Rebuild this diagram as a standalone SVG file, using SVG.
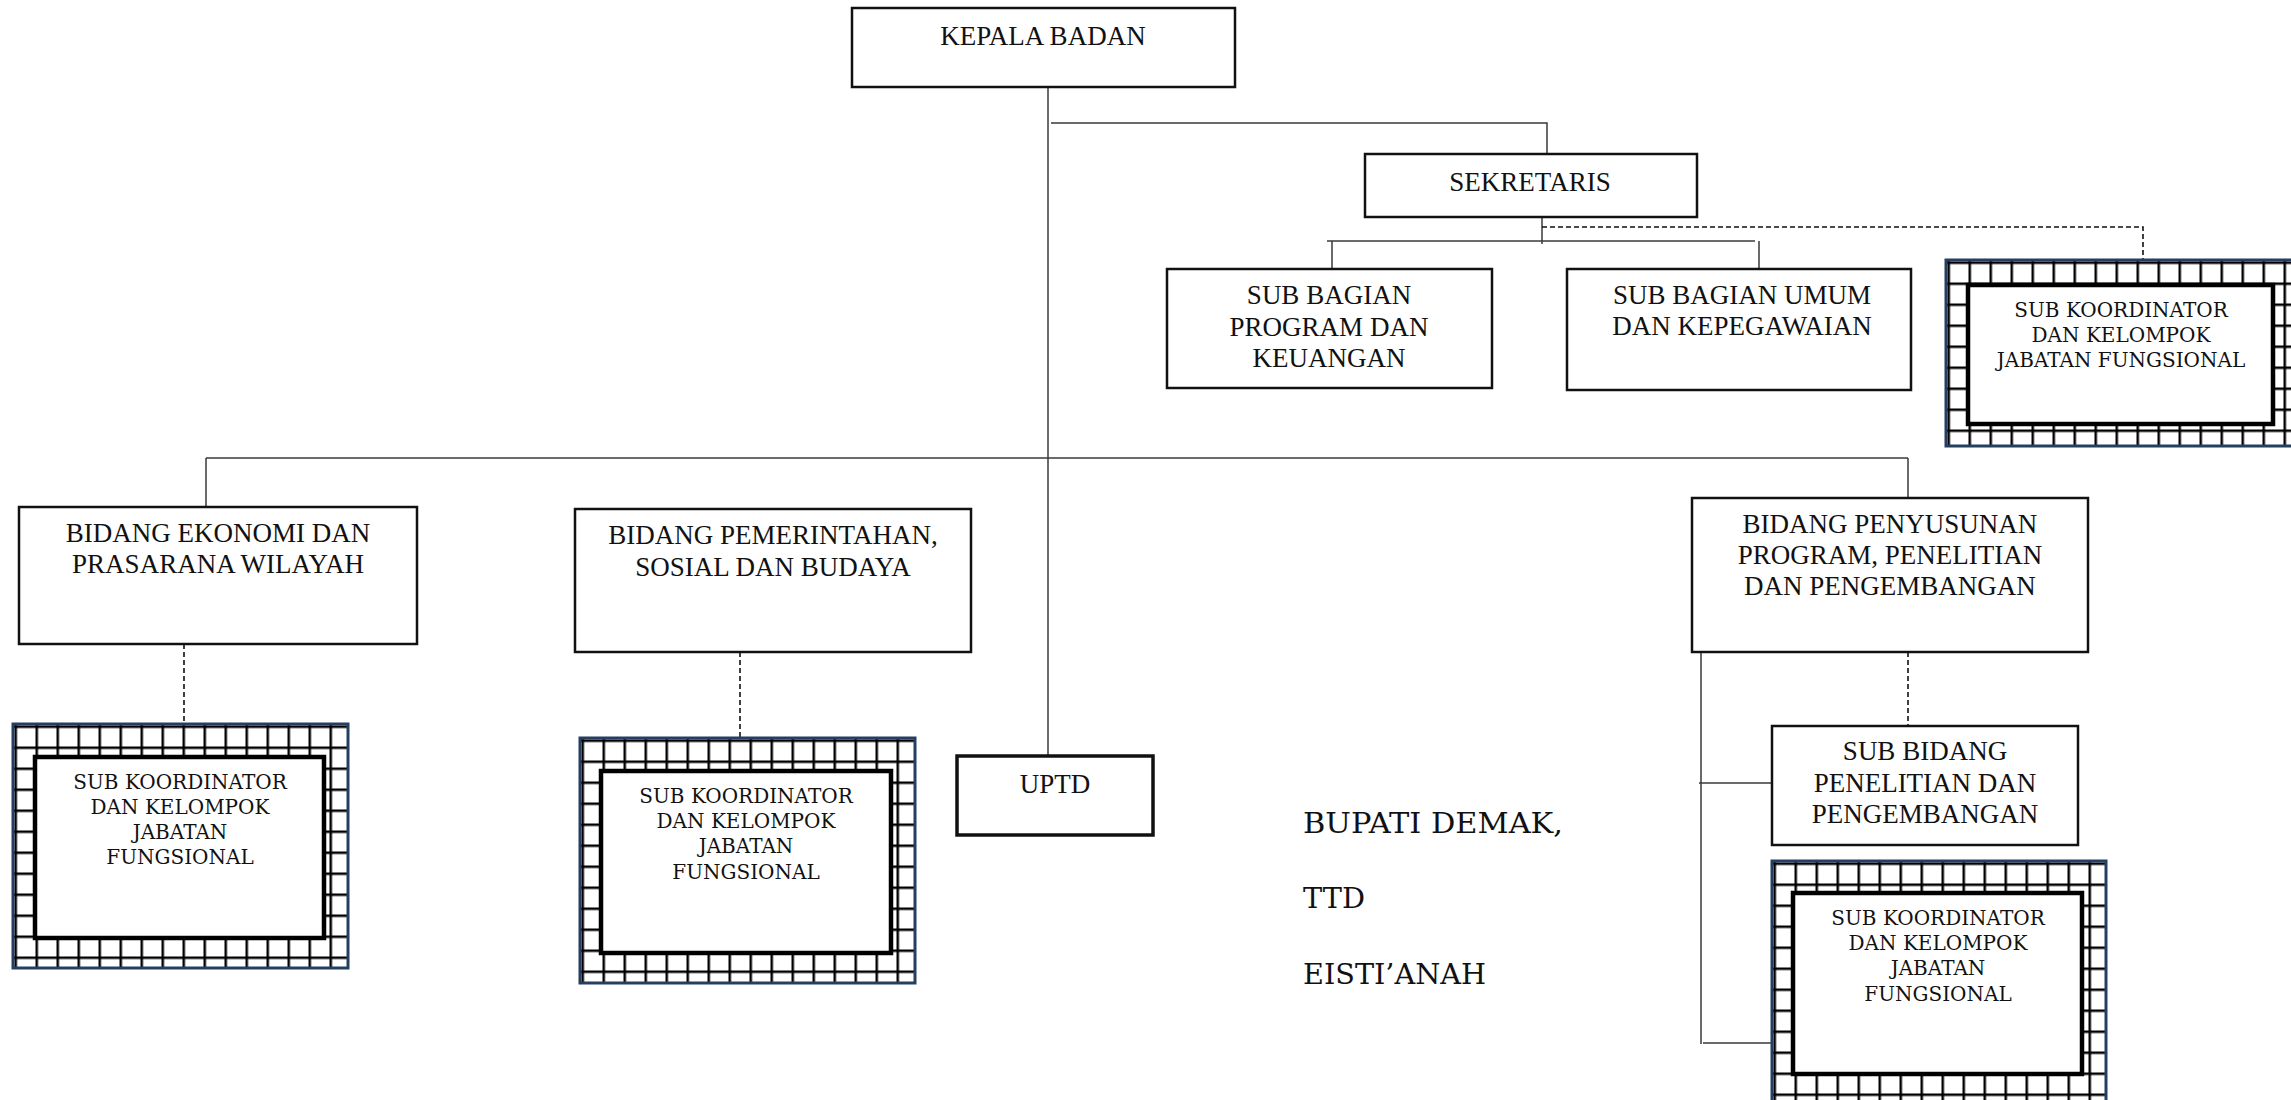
<svg xmlns="http://www.w3.org/2000/svg" width="2291" height="1100" viewBox="0 0 2291 1100">
<defs>
<pattern id="grid" patternUnits="userSpaceOnUse" x="1.5" y="1.5" width="21" height="21">
<rect width="21" height="21" fill="#fff"/>
<rect width="21" height="2.5" fill="#000"/>
<rect width="2.5" height="21" fill="#000"/>
</pattern>
<style>
.box{fill:#fff;stroke:#111;stroke-width:2.5}
.lbl{font-family:"Liberation Serif","Times New Roman",serif;font-size:27px;fill:#111;text-anchor:middle}
.kl{font-family:"DejaVu Serif",serif;font-size:20px;fill:#111;text-anchor:middle}
.sig{font-family:"DejaVu Serif",serif;font-size:28px;fill:#111}
.conn{stroke:#3a3a3a;stroke-width:1.5;fill:none}
.dash{stroke:#111;stroke-width:1.6;stroke-dasharray:5 3;fill:none}
.outer{fill:url(#grid);stroke:#243F60;stroke-width:3}
.inner{fill:#fff;stroke:#000;stroke-width:4.5}
</style>
</defs>
<rect width="2291" height="1100" fill="#fff"/>

<g id="connectors">
<path class="conn" d="M1048 87V756"/>
<path class="conn" d="M1051 123H1547V154"/>
<path class="conn" d="M1542 217V244"/>
<path class="conn" d="M1327 241H1755"/>
<path class="conn" d="M1332 241V269M1759 241V269"/>
<path class="dash" d="M1542 227H2143V260"/>
<path class="conn" d="M206 458H1908"/>
<path class="conn" d="M206 458V507M1908 458V498"/>
<path class="dash" d="M184 644V724"/>
<path class="dash" d="M740 652V738"/>
<path class="dash" d="M1908 652V726"/>
<path class="conn" d="M1701 652V1044M1699 783H1772M1703 1043H1772"/>
</g>

<g id="kepala-badan">
<rect class="box" x="852" y="8" width="383" height="79"/>
<text class="lbl" x="1043" y="45">KEPALA BADAN</text>
</g>

<g id="sekretaris">
<rect class="box" x="1365" y="154" width="332" height="63"/>
<text class="lbl" x="1530" y="191">SEKRETARIS</text>
</g>

<g id="sub-bagian-program">
<rect class="box" x="1167" y="269" width="325" height="119"/>
<text class="lbl" x="1329" y="304">SUB BAGIAN</text>
<text class="lbl" x="1329" y="336">PROGRAM DAN</text>
<text class="lbl" x="1329" y="367">KEUANGAN</text>
</g>

<g id="sub-bagian-umum">
<rect class="box" x="1567" y="269" width="344" height="121"/>
<text class="lbl" x="1742" y="304">SUB BAGIAN UMUM</text>
<text class="lbl" x="1742" y="335">DAN KEPEGAWAIAN</text>
</g>

<g id="koordinator-sekretariat" transform="translate(1946,260)">
<rect class="outer" x="0" y="0" width="360" height="186"/>
<rect class="inner" x="22" y="25" width="305" height="139"/>
<text class="kl" x="175" y="57">SUB KOORDINATOR</text>
<text class="kl" x="175" y="82">DAN KELOMPOK</text>
<text class="kl" x="175" y="107">JABATAN FUNGSIONAL</text>
</g>

<g id="bidang-ekonomi">
<rect class="box" x="19" y="507" width="398" height="137"/>
<text class="lbl" x="218" y="542">BIDANG EKONOMI DAN</text>
<text class="lbl" x="218" y="573">PRASARANA WILAYAH</text>
</g>

<g id="koordinator-ekonomi" transform="translate(13,724)">
<rect class="outer" x="0" y="0" width="335" height="244"/>
<rect class="inner" x="22" y="33" width="289" height="181"/>
<text class="kl" x="167" y="65">SUB KOORDINATOR</text>
<text class="kl" x="167" y="90">DAN KELOMPOK</text>
<text class="kl" x="167" y="115">JABATAN</text>
<text class="kl" x="167" y="140">FUNGSIONAL</text>
</g>

<g id="bidang-pemerintahan">
<rect class="box" x="575" y="509" width="396" height="143"/>
<text class="lbl" x="773" y="544">BIDANG PEMERINTAHAN,</text>
<text class="lbl" x="773" y="576">SOSIAL DAN BUDAYA</text>
</g>

<g id="koordinator-pemerintahan" transform="translate(580,738)">
<rect class="outer" x="0" y="0" width="335" height="245"/>
<rect class="inner" x="21" y="33" width="290" height="182"/>
<text class="kl" x="166" y="65">SUB KOORDINATOR</text>
<text class="kl" x="166" y="90">DAN KELOMPOK</text>
<text class="kl" x="166" y="115">JABATAN</text>
<text class="kl" x="166" y="141">FUNGSIONAL</text>
</g>

<g id="uptd">
<rect class="box" x="957" y="756" width="196" height="79" style="stroke-width:3.5"/>
<text class="lbl" x="1055" y="793">UPTD</text>
</g>

<g id="bidang-penyusunan">
<rect class="box" x="1692" y="498" width="396" height="154"/>
<text class="lbl" x="1890" y="533">BIDANG PENYUSUNAN</text>
<text class="lbl" x="1890" y="564">PROGRAM, PENELITIAN</text>
<text class="lbl" x="1890" y="595">DAN PENGEMBANGAN</text>
</g>

<g id="sub-bidang-penelitian">
<rect class="box" x="1772" y="726" width="306" height="119"/>
<text class="lbl" x="1925" y="760">SUB BIDANG</text>
<text class="lbl" x="1925" y="792">PENELITIAN DAN</text>
<text class="lbl" x="1925" y="823">PENGEMBANGAN</text>
</g>

<g id="koordinator-penyusunan" transform="translate(1772,861)">
<rect class="outer" x="0" y="0" width="334" height="250"/>
<rect class="inner" x="21" y="32" width="289" height="181"/>
<text class="kl" x="166" y="64">SUB KOORDINATOR</text>
<text class="kl" x="166" y="89">DAN KELOMPOK</text>
<text class="kl" x="166" y="114">JABATAN</text>
<text class="kl" x="166" y="140">FUNGSIONAL</text>
</g>

<g id="signature">
<text class="sig" x="1303" y="833" textLength="260" lengthAdjust="spacingAndGlyphs">BUPATI DEMAK,</text>
<text class="sig" x="1303" y="908" textLength="62" lengthAdjust="spacingAndGlyphs">TTD</text>
<text class="sig" x="1303" y="984" textLength="183" lengthAdjust="spacingAndGlyphs">EISTI’ANAH</text>
</g>
</svg>
